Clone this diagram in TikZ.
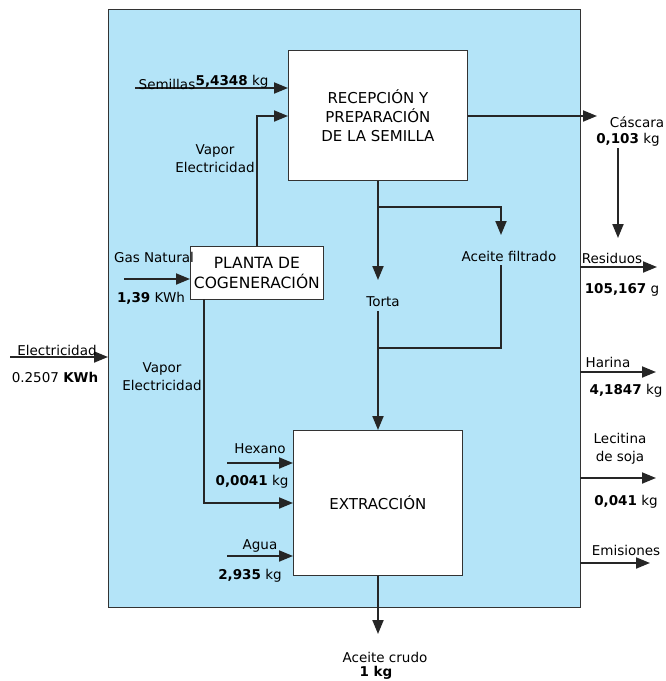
\documentclass[tikz,border=0pt]{standalone}
\usepackage{fontspec}
\setmainfont{DejaVu Sans}
\usetikzlibrary{arrows.meta}
\definecolor{skyb}{RGB}{180,228,248}
\begin{document}
\begin{tikzpicture}[x=1pt,y=-1pt,
  flow/.style={line width=1.9pt, draw=black!85},
  arr/.style={flow,-{Triangle[length=14pt,width=11pt]}},
  proc/.style={draw=black!80, line width=0.8pt, fill=white, inner sep=0pt, align=center, anchor=north west, font=\fontsize{15}{19}\selectfont},
  lbl/.style={font=\fontsize{13.5}{18}\selectfont, inner sep=0pt, align=center},
]
\useasboundingbox (0,0) rectangle (666,681);
\node[draw=black!80, line width=0.8pt, fill=skyb, minimum width=472pt, minimum height=598pt, anchor=north west, inner sep=0pt] (sys) at (108,9) {};
% process boxes
\node[proc, minimum width=179pt, minimum height=130pt] (rec) at (288,50) {RECEPCIÓN Y\\PREPARACIÓN\\DE LA SEMILLA};
\node[proc, minimum width=133pt, minimum height=53pt, font=\fontsize{15.5}{20}\selectfont] (cog) at (190,246) {PLANTA DE\\COGENERACIÓN};
\node[proc, minimum width=169pt, minimum height=145pt] (ext) at (293,430) {EXTRACCIÓN};
% coordinates
\coordinate (sem) at (135,88);
\coordinate (vap) at (257,116);
\coordinate (casc) at (597,116);
\coordinate (c1) at (618,148);
\coordinate (c2) at (618,238);
\coordinate (tor) at (378,207);
\coordinate (tortip) at (378,280);
\coordinate (af) at (501,235);
\coordinate (af2) at (501,265);
\coordinate (tj) at (378,348);
\coordinate (tor2) at (378,311);
\coordinate (gas) at (124,279);
\coordinate (cogx) at (204,299);
\coordinate (cogin) at (293,503);
\coordinate (el0) at (10,357);
\coordinate (el1) at (108,357);
\coordinate (hex) at (227,463);
\coordinate (agu) at (227,556);
\coordinate (crudo) at (378,634);
\coordinate (r0) at (580,267); \coordinate (r1) at (657,267);
\coordinate (h0) at (580,372); \coordinate (h1) at (656,372);
\coordinate (l0) at (580,478); \coordinate (l1) at (656,478);
\coordinate (e0) at (580,563); \coordinate (e1) at (650,563);
% connectors
\draw[arr] (sem) -- (sem -| rec.west);
\draw[arr] (vap |- cog.north) -- (vap) -- (vap -| rec.west);
\draw[arr] (rec.east |- casc) -- (casc);
\draw[arr] (c1) -- (c2);
\draw[arr] (tor |- rec.south) -- (tortip);
\draw[arr] (tor) -| (af);
\draw[flow] (af2) |- (tj);
\draw[arr] (tor2) -- (tor2 |- ext.north);
\draw[arr] (gas) -- (gas -| cog.west);
\draw[arr] (cogx) |- (cogin);
\draw[arr] (el0) -- (el1);
\draw[arr] (hex) -- (hex -| ext.west);
\draw[arr] (agu) -- (agu -| ext.west);
\draw[arr] (crudo |- ext.south) -- (crudo);
\draw[arr] (r0) -- (r1);
\draw[arr] (h0) -- (h1);
\draw[arr] (l0) -- (l1);
\draw[arr] (e0) -- (e1);
% labels
\node[lbl, anchor=base] (lsem) at (167,89) {Semillas};
\node[lbl, anchor=base] (lsemq) at (232,85) {\textbf{5,4348} kg};
\node[lbl] (lvap1) at (215,159) {Vapor\\Electricidad};
\node[lbl] (lcas) at (637,122) {Cáscara};
\node[lbl] (lcasq) at (628,140) {\textbf{0,103} kg};
\node[lbl] (laf) at (509,256) {Aceite filtrado};
\node[lbl] (ltor) at (383,302) {Torta};
\node[lbl] (lgas) at (154,257) {Gas Natural};
\node[lbl] (lgasq) at (151,298) {\textbf{1,39} KWh};
\node[lbl] (lvap2) at (162,377) {Vapor\\Electricidad};
\node[lbl] (lel) at (57,350) {Electricidad};
\node[lbl] (lelq) at (55,377) {0.2507 \textbf{KWh}};
\node[lbl] (lhex) at (260,449) {Hexano};
\node[lbl] (lhexq) at (252,482) {\textbf{0,0041} kg};
\node[lbl] (lagu) at (260,546) {Agua};
\node[lbl] (laguq) at (250,576) {\textbf{2,935} kg};
\node[lbl] (lcru) at (385,657) {Aceite crudo};
\node[lbl] (lcruq) at (376,673) {\textbf{1 kg}};
\node[lbl] (lres) at (612,258) {Residuos};
\node[lbl] (lresq) at (622,290) {\textbf{105,167} g};
\node[lbl] (lhar) at (608,362) {Harina};
\node[lbl] (lharq) at (626,391) {\textbf{4,1847} kg};
\node[lbl] (llec) at (620,449) {Lecitina\\de soja};
\node[lbl] (llecq) at (626,502) {\textbf{0,041} kg};
\node[lbl] (lemi) at (626,550) {Emisiones};
\end{tikzpicture}
\end{document}
